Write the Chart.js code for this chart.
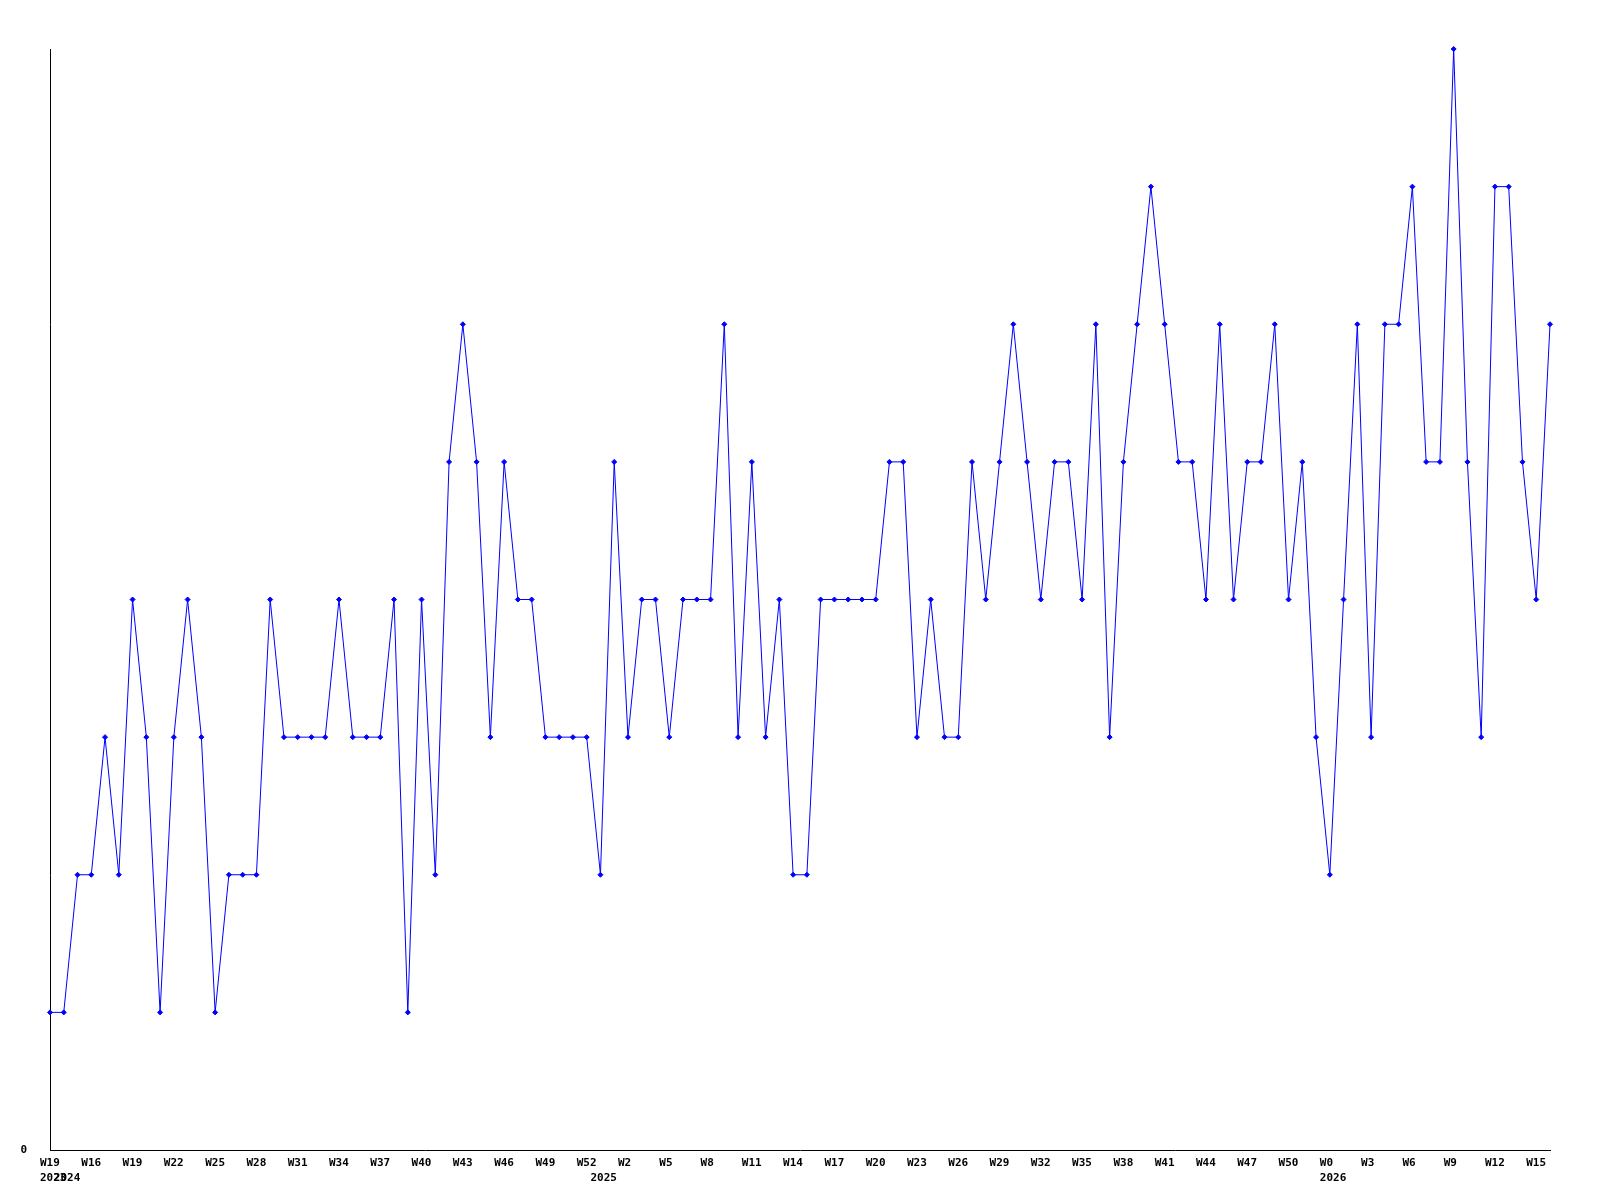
<!DOCTYPE html>
<html>
<head>
<meta charset="utf-8">
<script src="https://cdn.jsdelivr.net/npm/chart.js@4/dist/chart.umd.min.js"></script>
<style>
  html, body { margin: 0; padding: 0; background: #ffffff; }
  #wrap { width: 1600px; height: 1200px; }
</style>
</head>
<body>
<div id="wrap"><canvas id="c" width="1600" height="1200"></canvas></div>
<script>
// Week categories (as labelled on the reference axis)
const weeks = [
  "W19","W14","W15","W16","W17","W18","W19","W20","W21","W22","W23","W24","W25","W26","W27","W28","W29","W30","W31","W32",
  "W33","W34","W35","W36","W37","W38","W39","W40","W41","W42","W43","W44","W45","W46","W47","W48","W49","W50","W51","W52",
  "W0","W1","W2","W3","W4","W5","W6","W7","W8","W9","W10","W11","W12","W13","W14","W15","W16","W17","W18","W19",
  "W20","W21","W22","W23","W24","W25","W26","W27","W28","W29","W30","W31","W32","W33","W34","W35","W36","W37","W38","W39",
  "W40","W41","W42","W43","W44","W45","W46","W47","W48","W49","W50","W51","W52",
  "W0","W1","W2","W3","W4","W5","W6","W7","W8","W9","W10","W11","W12","W13","W14","W15","W16"
];
// Year labels shown on the second line under specific categories
const yearIndex = [0, 1, 40, 93];
const yearText  = ["2023", "2024", "2025", "2026"];
// Series values
const counts = [
  1,1,2,2,3,2,4,3,1,3, 4,3,1,2,2,2,4,3,3,3,
  3,4,3,3,3,4,1,4,2,5, 6,5,3,5,4,4,3,3,3,3,
  2,5,3,4,4,3,4,4,4,6, 3,5,3,4,2,2,4,4,4,4,
  4,5,5,3,4,3,3,5,4,5, 6,5,4,5,5,4,6,3,5,6,
  7,6,5,5,4,6,4,5,5,6, 4,5,3,2,4,6,3,6,6,7,
  5,5,8,5,3,7,7,5,4,6
];
const yMin = 0, yMax = 8;
const yTickLabels = { 0: "0" };

const tickFont = { family: "'DejaVu Sans Mono', 'Liberation Mono', monospace", size: 11, weight: 'bold', lineHeight: 1.35 };

new Chart(document.getElementById('c'), {
  type: 'line',
  data: {
    labels: weeks,
    datasets: [{
      data: counts,
      borderColor: '#0000ff',
      backgroundColor: '#0000ff',
      borderWidth: 1,
      tension: 0,
      clip: false,
      pointStyle: 'rectRot',
      pointRadius: 2.5,
      pointBorderWidth: 1,
      pointBorderColor: '#0000ff',
      pointBackgroundColor: '#0000ff',
      fill: false
    }]
  },
  options: {
    responsive: false,
    animation: false,
    devicePixelRatio: 1,
    layout: { padding: { top: 49, right: 50, left: 0, bottom: 0 } },
    plugins: { legend: { display: false }, tooltip: { enabled: false }, title: { display: false } },
    scales: {
      x: {
        type: 'category',
        offset: false,
        grid: { display: false, drawTicks: false },
        border: { display: true, color: '#000000', width: 1 },
        afterFit: (s) => { s.height = 50; },
        ticks: {
          autoSkip: false,
          maxRotation: 0,
          minRotation: 0,
          align: 'start',
          labelOffset: -10,
          padding: 6,
          color: '#000000',
          font: tickFont,
          callback: function (val, idx) {
            const w = (idx % 3 === 0) ? weeks[idx] : '';
            const k = yearIndex.indexOf(idx);
            const y = k >= 0 ? yearText[k] : '';
            if (!w && !y) return '';
            return [w, y];
          }
        }
      },
      y: {
        min: yMin,
        max: yMax,
        grid: { display: false, drawTicks: false },
        border: { display: true, color: '#000000', width: 1 },
        afterFit: (s) => { s.width = 50; },
        ticks: {
          stepSize: 1,
          padding: 23,
          color: '#000000',
          font: tickFont,
          callback: (v) => (yTickLabels[v] !== undefined ? yTickLabels[v] : '')
        }
      }
    }
  },
  plugins: [{
    id: 'bg',
    beforeDraw: (chart) => {
      const ctx = chart.ctx;
      ctx.save();
      ctx.fillStyle = '#ffffff';
      ctx.fillRect(0, 0, chart.width, chart.height);
      ctx.restore();
    }
  }]
});
</script>
</body>
</html>
